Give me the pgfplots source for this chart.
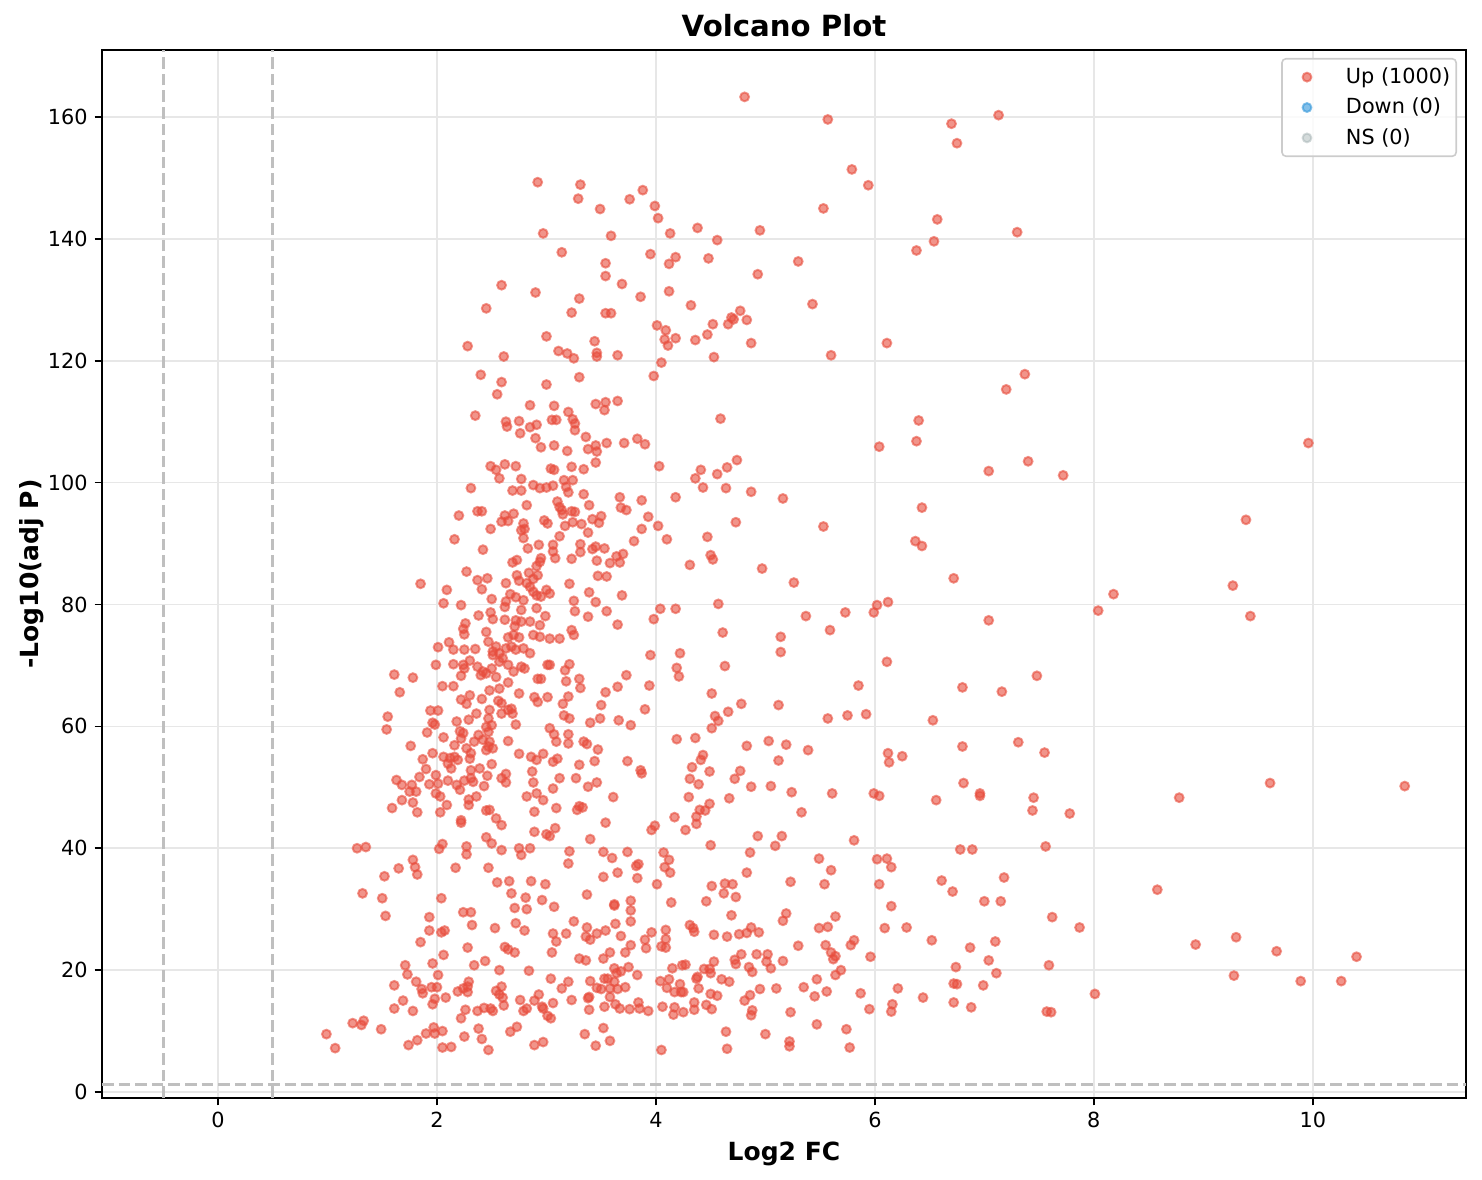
\documentclass[border=0pt]{standalone}
\usepackage{fontspec}
\setmainfont{DejaVu Sans}
\usepackage{pgfplots}
\usepackage{pgfplotstable}
\pgfplotsset{compat=1.18}

\definecolor{upred}{HTML}{E74C3C}
\definecolor{downblue}{HTML}{3498DB}
\definecolor{nsgray}{HTML}{95A5A6}
\definecolor{gridc}{HTML}{E7E7E7}
\definecolor{legframe}{HTML}{CCCCCC}

% significant "up" genes: log2FC, -log10(adj p)
\pgfplotstableread{
x y
2.92 149.3
2.97 140.9
2.59 132.4
2.90 131.2
2.45 128.6
3.00 124.0
2.28 122.4
2.61 120.7
2.40 117.7
2.59 116.5
3.00 116.1
2.55 114.5
2.85 112.7
2.35 111.0
2.63 110.0
2.64 109.2
2.75 110.1
2.85 109.1
2.91 109.5
2.76 108.1
2.90 107.3
2.95 105.8
3.07 106.1
3.05 110.3
3.09 110.3
4.81 163.3
3.31 148.9
3.29 146.6
3.88 148.0
3.76 146.5
3.49 144.9
3.99 145.4
4.02 143.4
4.13 140.9
4.38 141.8
4.56 139.8
4.95 141.4
3.59 140.5
3.14 137.8
3.95 137.5
4.18 137.0
4.12 135.9
4.48 136.8
3.54 136.0
3.54 133.9
3.69 132.6
4.93 134.2
4.12 131.4
3.86 130.5
3.30 130.2
3.23 127.9
3.54 127.8
3.59 127.8
4.32 129.1
4.77 128.2
4.69 127.1
4.71 126.8
4.83 126.7
4.66 126.0
4.52 126.0
4.47 124.3
4.87 122.9
4.01 125.8
4.09 125.0
4.08 123.5
4.11 122.5
4.18 123.7
4.36 123.4
4.53 120.6
4.05 119.7
3.98 117.5
3.44 123.2
3.11 121.6
3.19 121.2
3.25 120.4
3.46 121.3
3.46 120.7
3.65 120.9
3.30 117.3
4.59 110.5
3.07 112.6
3.45 112.9
3.54 113.2
3.53 111.9
3.65 113.4
3.20 111.6
3.24 110.4
3.26 109.7
3.26 108.6
3.36 107.5
3.19 105.2
3.38 105.5
3.45 106.1
3.46 105.1
3.55 106.5
3.71 106.5
3.83 107.2
3.90 106.3
2.49 102.7
2.54 102.1
2.62 103.0
2.72 102.7
2.57 100.7
2.77 100.6
2.31 99.1
2.69 98.7
2.77 98.7
2.88 99.6
2.94 99.1
3.00 99.2
3.06 99.5
3.04 102.3
3.07 102.1
2.82 96.3
2.20 94.6
2.37 95.3
2.41 95.3
2.62 94.6
2.70 94.9
2.59 93.6
2.65 93.7
2.79 93.3
2.80 92.4
2.77 92.2
2.98 93.8
3.01 93.3
3.10 96.9
2.49 92.4
2.16 90.7
2.79 90.9
2.42 89.0
2.83 89.2
2.93 89.8
3.06 89.8
3.06 88.7
3.08 87.6
2.27 85.4
2.69 86.9
2.73 87.3
2.94 87.0
2.95 87.6
2.91 86.3
2.37 84.0
2.46 84.3
2.41 82.5
2.73 84.8
2.75 83.9
2.84 85.2
2.92 84.8
2.88 84.2
2.63 83.5
2.82 83.5
2.85 82.9
2.88 82.1
3.00 82.4
3.03 81.8
1.85 83.4
2.09 82.4
2.06 80.2
2.22 79.9
2.50 80.9
2.67 81.7
2.63 80.5
2.62 79.6
2.72 81.2
2.79 80.7
2.91 81.5
2.95 81.3
2.91 79.4
2.77 79.1
2.38 78.2
2.49 78.7
2.51 77.6
2.62 77.5
2.72 77.4
2.77 77.2
2.85 77.2
2.99 78.1
2.94 76.6
2.26 76.9
2.24 76.0
2.25 75.1
2.45 75.5
2.71 76.4
2.70 75.0
2.65 74.6
2.75 74.6
2.88 75.0
2.94 74.7
3.03 74.4
3.12 74.4
2.11 73.8
2.15 72.6
2.01 73.0
2.25 72.6
2.35 72.7
2.47 73.9
2.54 73.1
2.51 72.3
2.51 71.7
2.57 72.0
2.63 72.8
2.68 73.1
2.72 72.6
2.79 72.8
2.85 72.0
2.60 71.2
2.65 70.1
2.57 70.6
2.15 70.2
1.99 70.1
2.24 70.1
2.25 69.5
2.22 68.3
2.30 70.8
2.37 69.8
2.42 69.0
2.40 68.4
2.45 68.7
2.50 69.5
2.54 68.1
2.77 69.8
2.80 69.5
2.70 69.0
3.01 70.1
3.03 70.1
2.92 67.8
2.95 67.8
2.65 67.2
2.48 65.9
2.57 66.2
2.75 65.4
1.61 68.5
1.78 68.0
1.66 65.6
2.05 66.6
2.15 66.6
2.30 65.1
2.22 64.4
2.27 63.7
2.41 64.5
2.56 64.2
2.59 63.8
2.48 62.7
2.36 62.1
2.59 62.1
2.65 62.7
2.68 62.9
2.69 62.1
2.89 64.8
2.92 64.0
3.01 64.8
1.94 62.6
2.01 62.6
1.55 61.6
1.54 59.5
1.96 60.6
1.98 60.3
1.91 59.0
2.18 60.8
2.29 61.1
2.47 61.3
2.50 60.2
2.45 59.9
2.47 59.1
2.72 60.3
2.21 59.2
2.24 58.9
2.22 58.0
2.38 58.6
2.42 57.8
2.48 57.5
2.47 56.7
2.51 56.4
2.45 56.1
2.65 57.6
2.06 58.2
1.76 56.8
2.34 57.5
2.27 56.4
2.31 55.6
2.16 56.9
1.96 55.6
1.87 54.6
2.06 55.0
2.12 54.8
2.16 55.0
2.10 53.9
2.19 54.5
2.30 54.7
2.75 55.5
2.86 55.0
2.91 54.5
2.97 55.5
3.03 59.7
3.07 58.7
3.09 57.5
3.06 54.2
3.10 54.7
3.45 103.3
3.23 102.6
3.34 102.2
4.03 102.7
4.41 102.1
4.36 100.7
4.56 101.4
4.65 102.5
4.74 103.7
4.43 99.2
4.64 99.1
4.87 98.5
5.16 97.4
4.18 97.6
3.16 100.4
3.24 100.4
3.18 99.3
3.20 98.4
3.34 98.1
3.12 96.0
3.14 95.5
3.15 94.8
3.23 95.3
3.26 95.2
3.39 96.3
3.67 97.6
3.68 95.9
3.73 95.5
3.87 97.1
3.93 94.4
4.02 92.9
3.87 92.4
3.80 90.4
4.10 90.7
4.47 91.1
4.73 93.5
3.17 92.9
3.24 93.5
3.32 93.2
3.42 94.0
3.50 94.5
3.48 93.4
3.12 91.2
3.38 91.8
3.31 89.9
3.31 88.6
3.42 89.1
3.45 89.5
3.53 89.2
3.23 87.5
3.46 87.2
3.58 86.8
3.64 87.9
3.67 86.9
3.70 88.3
3.47 84.7
3.55 84.6
4.31 86.5
4.50 88.1
4.52 87.4
4.97 85.9
5.26 83.6
3.21 83.4
3.39 82.0
3.45 80.4
3.69 81.5
3.25 80.6
3.26 78.9
3.38 78.0
3.55 78.9
3.65 76.7
4.04 79.3
4.18 79.3
3.98 77.6
4.57 80.1
4.61 75.4
5.14 74.7
5.14 72.2
3.23 75.8
3.25 75.0
3.21 70.2
3.17 69.2
3.18 67.4
3.30 67.8
3.31 66.3
3.73 68.4
3.95 71.7
4.22 72.0
4.19 69.6
4.21 68.2
4.63 69.9
3.65 66.5
3.54 65.6
3.94 66.7
3.20 64.9
3.15 63.7
3.50 63.5
3.90 62.8
4.51 65.4
4.78 63.7
5.12 63.5
4.66 62.4
4.54 61.7
4.57 60.9
4.51 59.7
3.16 61.8
3.21 61.3
3.40 60.6
3.49 61.3
3.66 61.0
3.77 60.2
3.20 58.7
3.20 57.2
3.34 57.5
3.37 57.1
3.47 56.2
4.19 57.9
4.36 58.1
4.83 56.8
5.03 57.6
5.19 57.0
5.12 54.4
4.43 55.3
4.41 54.5
3.30 53.7
3.44 54.3
3.74 54.3
1.63 51.2
1.68 50.4
1.77 50.4
1.75 49.3
1.81 49.3
1.84 51.7
1.90 53.0
1.68 47.9
1.78 47.5
1.59 46.6
1.82 45.9
1.93 50.5
1.99 52.0
2.01 50.6
1.99 49.0
2.03 48.5
2.09 47.1
2.03 45.9
2.10 51.1
2.18 50.4
2.21 49.6
2.13 53.1
2.31 52.8
2.31 51.5
2.33 50.9
2.25 51.1
2.39 53.1
2.46 51.9
2.43 50.2
2.29 48.0
2.29 47.1
2.36 48.5
2.22 44.6
2.22 44.2
2.50 53.8
2.59 51.5
2.63 50.8
2.63 52.2
2.45 46.2
2.48 46.3
2.54 44.9
2.59 43.8
2.45 41.8
2.50 40.8
2.59 39.7
2.75 40.0
2.77 38.9
2.85 40.0
2.82 48.5
2.89 46.0
2.87 52.6
2.88 50.8
2.91 49.0
2.97 47.9
2.89 42.7
3.00 42.3
3.03 42.0
3.06 49.8
3.09 46.6
3.08 43.3
1.27 40.0
1.35 40.2
1.78 38.1
1.80 36.9
1.82 35.7
1.65 36.7
1.52 35.4
1.32 32.6
1.50 31.8
1.53 28.9
2.02 39.9
2.05 40.7
2.27 40.3
2.27 39.0
2.17 36.8
2.47 36.8
2.55 34.4
2.66 34.6
2.68 32.6
2.86 34.6
2.99 34.1
2.81 31.9
2.82 30.0
2.71 30.2
2.96 31.5
3.07 30.4
2.04 31.8
1.93 28.7
2.24 29.5
2.31 29.5
2.32 27.4
1.93 26.5
2.04 26.2
2.07 26.5
2.53 26.9
2.72 27.7
2.80 26.5
3.06 26.0
3.09 24.7
3.05 22.9
1.85 24.6
2.28 23.7
2.06 22.5
2.62 23.8
2.65 23.4
2.71 22.9
1.96 21.1
1.71 20.8
1.73 19.3
2.01 19.2
2.34 20.8
2.44 21.5
2.57 20.0
2.84 19.9
3.04 18.6
1.61 17.5
1.81 18.1
1.86 16.9
1.87 16.2
1.95 17.2
2.00 17.2
1.98 15.3
1.96 14.4
2.08 15.5
1.69 15.0
1.61 13.7
1.78 13.3
2.19 16.5
2.24 17.0
2.28 17.3
2.29 18.1
2.28 16.4
2.54 16.6
2.59 17.3
2.57 16.0
2.60 15.5
2.61 14.2
2.26 13.5
2.22 12.1
2.37 13.3
2.43 13.8
2.49 13.7
2.51 13.3
2.76 15.1
2.79 13.3
2.82 13.7
2.89 15.0
2.93 16.0
2.96 14.0
2.97 13.7
3.01 12.5
3.04 12.1
3.06 14.6
1.23 11.3
1.31 11.0
1.33 11.7
1.49 10.3
0.99 9.5
1.07 7.2
1.90 9.6
1.97 10.6
1.98 9.6
2.05 10.0
1.74 7.7
1.82 8.5
2.25 9.1
2.38 10.4
2.41 8.7
2.05 7.3
2.13 7.4
2.47 6.9
2.67 9.9
2.73 10.7
2.89 7.7
2.97 8.2
3.86 52.8
3.87 52.3
3.12 51.5
3.27 51.5
3.38 50.1
3.46 50.8
3.61 48.4
3.28 46.3
3.30 46.9
3.33 46.7
3.54 44.2
3.40 41.5
3.96 43.0
3.99 43.7
4.33 53.3
4.49 52.6
4.31 51.4
4.39 50.5
4.77 52.7
4.72 51.4
4.87 50.1
5.05 50.2
5.24 49.2
4.30 48.4
4.67 48.2
4.49 47.3
4.45 46.2
4.40 46.3
4.37 45.2
4.37 44.0
4.17 45.1
4.27 43.0
4.50 40.5
4.93 42.0
5.15 42.0
5.09 40.4
4.86 39.3
4.83 36.0
5.23 34.5
3.21 39.5
3.20 37.5
3.52 39.4
3.60 38.4
3.74 39.4
3.82 37.1
3.84 37.4
3.83 35.1
3.65 36.0
3.52 35.3
4.07 39.3
4.12 38.1
4.08 36.9
4.13 36.0
4.01 34.1
3.37 32.4
3.62 30.8
3.62 30.6
3.77 31.4
3.77 29.8
3.77 28.0
4.14 31.1
4.51 33.8
4.63 34.2
4.70 34.1
4.62 32.6
4.73 32.0
4.46 31.3
4.69 29.0
5.19 29.3
5.16 28.1
3.25 28.0
3.37 27.0
3.36 25.5
3.40 25.0
3.18 26.0
3.46 26.0
3.54 26.5
3.63 27.6
3.68 25.6
3.96 26.2
3.90 25.0
3.91 23.6
4.09 26.6
4.09 25.1
4.05 23.9
4.09 23.7
4.31 27.4
4.34 26.9
4.35 26.3
4.53 25.8
4.65 25.5
4.76 25.9
4.83 26.1
4.87 27.0
4.94 26.2
3.77 24.1
3.72 22.9
3.58 22.9
3.52 21.9
3.30 21.9
3.36 21.6
4.78 22.6
4.72 21.7
4.73 21.0
4.92 22.6
5.02 22.6
5.01 21.4
5.05 20.3
5.16 21.5
4.85 20.5
4.88 19.7
4.53 21.4
4.15 20.3
4.24 20.8
4.27 20.9
4.38 18.9
4.44 20.2
4.49 20.2
4.50 19.5
4.37 18.6
4.60 18.5
4.67 18.1
3.62 20.3
3.64 19.5
3.68 19.8
3.75 20.5
3.83 19.2
3.40 18.2
3.53 18.6
3.56 18.6
3.62 18.1
3.46 17.1
3.50 16.9
3.58 17.0
3.65 16.9
3.72 17.2
3.14 17.0
3.20 18.1
4.04 18.2
4.12 18.5
4.10 17.1
4.22 17.7
4.17 16.4
4.23 16.4
4.25 16.4
4.39 17.0
4.50 16.1
4.56 15.8
4.95 16.9
5.10 17.0
4.86 15.9
4.81 15.0
4.88 13.4
4.87 12.6
3.23 15.1
3.39 15.6
3.38 15.4
3.58 15.6
3.63 14.4
3.67 13.7
3.53 14.0
3.39 13.5
3.76 13.6
3.84 14.7
3.85 13.7
3.93 13.3
4.06 14.0
4.17 13.9
4.16 12.7
4.25 13.1
4.35 14.7
4.35 13.5
4.46 14.3
4.51 13.6
3.52 10.5
3.35 9.5
3.45 7.6
3.58 8.4
4.05 6.9
4.64 9.9
4.65 7.1
5.00 9.5
5.22 8.3
5.22 7.5
5.23 13.1
5.57 159.6
6.70 158.9
7.13 160.3
6.75 155.7
5.79 151.4
5.94 148.8
5.53 145.0
6.57 143.2
7.30 141.1
6.54 139.6
6.38 138.1
5.30 136.3
5.43 129.3
6.11 122.9
5.60 120.9
7.37 117.8
7.20 115.3
6.40 110.2
6.38 106.8
6.04 105.9
7.04 101.9
7.40 103.5
7.72 101.2
6.43 95.9
5.53 92.8
6.37 90.4
6.43 89.6
6.72 84.3
5.37 78.1
5.73 78.7
5.59 75.8
5.99 78.7
6.02 79.9
6.12 80.4
7.04 77.4
8.04 79.0
8.18 81.7
6.11 70.6
5.85 66.7
6.80 66.4
7.16 65.7
7.48 68.3
5.57 61.3
5.75 61.8
5.92 62.0
6.53 61.0
5.39 56.1
6.12 55.6
6.13 54.1
6.25 55.1
6.80 56.7
7.31 57.4
7.55 55.7
5.33 45.9
5.61 49.0
5.99 49.0
6.04 48.6
6.56 47.9
6.81 50.7
6.96 49.0
6.96 48.6
7.45 48.3
7.44 46.2
7.78 45.7
5.81 41.3
5.49 38.3
5.60 36.4
5.54 34.1
6.02 38.2
6.11 38.3
6.15 36.9
6.04 34.1
6.78 39.8
6.89 39.8
7.56 40.3
6.61 34.7
6.71 32.9
7.18 35.2
7.00 31.3
7.15 31.3
5.64 28.8
5.49 26.9
5.57 27.1
6.15 30.5
6.09 26.9
6.29 27.0
7.62 28.7
7.87 27.0
5.30 24.0
5.55 24.1
5.60 22.9
5.64 22.3
5.62 21.8
5.78 24.1
5.81 24.9
5.96 22.2
6.52 24.9
6.87 23.7
7.10 24.7
7.04 21.6
7.11 19.5
7.59 20.8
6.74 20.5
5.69 20.0
5.64 19.2
5.47 18.5
5.35 17.2
5.45 15.7
5.56 16.5
5.87 16.2
6.21 17.0
6.16 14.4
6.15 13.2
5.95 13.6
6.44 15.5
6.72 17.8
6.75 17.7
6.99 17.5
6.72 14.7
6.88 13.9
7.57 13.2
7.61 13.1
8.01 16.1
5.47 11.1
5.74 10.3
5.77 7.3
9.96 106.5
9.39 93.9
9.27 83.1
9.43 78.1
9.61 50.7
8.78 48.3
10.84 50.2
8.58 33.2
8.93 24.2
9.30 25.4
9.28 19.1
9.67 23.1
9.89 18.2
10.26 18.2
10.40 22.2
}\updata

\begin{document}
\begin{tikzpicture}
\begin{axis}[
    name=ax,
    scale only axis,
    width=682pt, height=524pt,
    xmin=-1.06, xmax=11.40,
    ymin=-0.98, ymax=171.0,
    xtick={0,2,...,10},
    ytick={0,20,...,160},
    tick align=outside,
    major tick length=3.65pt,
    tick style={black, line width=0.83pt},
    axis line style={black, line width=0.83pt},
    xtick pos=bottom, ytick pos=left,
    grid=major,
    major grid style={gridc, line width=0.83pt},
    /pgf/number format/assume math mode=true,
    tick label style={font=\fontsize{10.4}{12}\selectfont},
    every axis title/.style={at={(axis description cs:0.5,1.0124)}, anchor=base},
    title style={font=\fontsize{14.6}{17}\selectfont\bfseries},
    title={Volcano Plot},
    every axis x label/.style={at={(axis description cs:0.5,-0.060)}, anchor=base},
    every axis y label/.style={at={(axis description cs:-0.0469,0.5)}, anchor=base, rotate=90},
    label style={font=\fontsize{12.5}{15}\selectfont\bfseries},
    xlabel={Log2 FC},
    ylabel={-Log10(adj P)},
    legend style={at={(axis description cs:0.9934,0.9924)}, anchor=north east,
        draw=legframe, line width=0.8pt, rounded corners=2pt, fill=white,
        fill opacity=0.8, text opacity=1,
        font=\fontsize{10.4}{12.5}\selectfont,
        inner xsep=1pt, inner ysep=2.5pt, row sep=1.8pt},
    legend cell align=left,
    legend image code/.code={\path[draw=none, fill=none] (0pt,0pt) -- (29pt,0pt);
        \draw[#1] plot coordinates {(11.5pt,0pt)};},
]
\addplot[only marks, mark=*, mark size=2.2pt,
    mark options={line width=1pt, draw=upred, fill=upred, draw opacity=0.6, fill opacity=0.6}]
    table[x=x, y=y] {\updata};
\addlegendentry{Up (1000)}
\addlegendimage{only marks, mark=*, mark size=2.2pt,
    mark options={line width=1pt, draw=downblue, fill=downblue, draw opacity=0.6, fill opacity=0.6}}
\addlegendentry{Down (0)}
\addlegendimage{only marks, mark=*, mark size=2.2pt,
    mark options={line width=1pt, draw=nsgray, fill=nsgray, draw opacity=0.4, fill opacity=0.4}}
\addlegendentry{NS (0)}
% thresholds
\addplot[forget plot, black!25, line width=1.5pt, dash pattern=on 5.8pt off 2.5pt]
    coordinates {(-0.5,-0.98) (-0.5,171.0)};
\addplot[forget plot, black!25, line width=1.5pt, dash pattern=on 5.8pt off 2.5pt]
    coordinates {(0.5,-0.98) (0.5,171.0)};
\addplot[forget plot, black!25, line width=1.5pt, dash pattern=on 5.8pt off 2.5pt]
    coordinates {(-1.06,1.3) (11.40,1.3)};
\end{axis}
\pgfresetboundingbox
\path[use as bounding box] ([shift={(-51pt,-41pt)}]ax.south west) rectangle ([shift={(8pt,25pt)}]ax.north east);
\end{tikzpicture}
\end{document}
